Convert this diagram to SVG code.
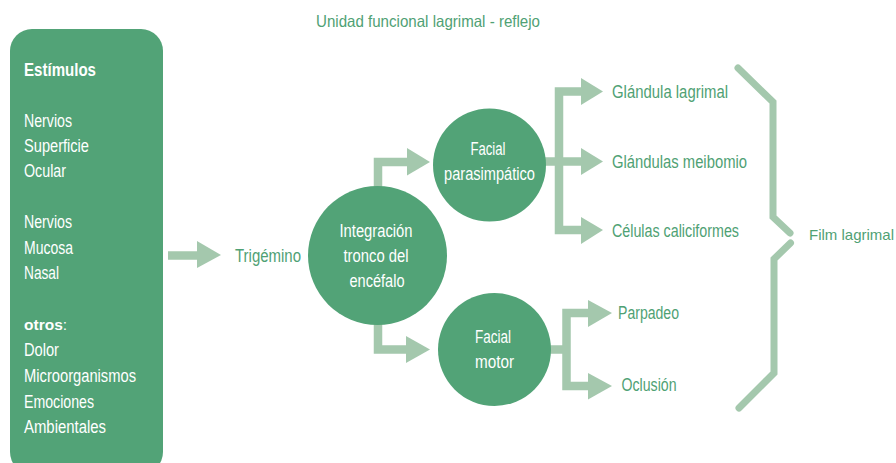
<svg xmlns="http://www.w3.org/2000/svg" width="896" height="463" viewBox="0 0 896 463">
<style>
text{font-family:"Liberation Sans",Arial,sans-serif;font-size:17.5px;}
.w{fill:#ffffff;}
.g{fill:#4fa174;}
.b{font-weight:bold;}
.node{fill:#52a377;}
.arr{fill:#a4c8ad;}
.bar{fill:none;stroke:#a4c8ad;stroke-width:8.5;}
.brace{fill:none;stroke:#a4c8ad;stroke-width:7;stroke-linecap:round;stroke-linejoin:miter;}
</style>
<text class="g" x="316" y="27" textLength="224" lengthAdjust="spacingAndGlyphs" style="font-size:16.5px">Unidad funcional lagrimal - reflejo</text>

<g id="estimulos">
<rect class="node" x="10" y="29" width="153" height="445" rx="22"/>
<text class="w b" x="24" y="76" textLength="72" lengthAdjust="spacingAndGlyphs">Estímulos</text>
<text class="w" x="24" y="127" textLength="48" lengthAdjust="spacingAndGlyphs">Nervios</text>
<text class="w" x="24" y="152" textLength="65" lengthAdjust="spacingAndGlyphs">Superficie</text>
<text class="w" x="24" y="177" textLength="42" lengthAdjust="spacingAndGlyphs">Ocular</text>
<text class="w" x="24" y="228" textLength="48" lengthAdjust="spacingAndGlyphs">Nervios</text>
<text class="w" x="24" y="254" textLength="49" lengthAdjust="spacingAndGlyphs">Mucosa</text>
<text class="w" x="24" y="279" textLength="35" lengthAdjust="spacingAndGlyphs">Nasal</text>
<text class="w" x="24" y="330" style="font-size:15.5px"><tspan class="b">otros</tspan>:</text>
<text class="w" x="24" y="356" textLength="35" lengthAdjust="spacingAndGlyphs">Dolor</text>
<text class="w" x="24" y="382" textLength="112" lengthAdjust="spacingAndGlyphs">Microorganismos</text>
<text class="w" x="24" y="408" textLength="70" lengthAdjust="spacingAndGlyphs">Emociones</text>
<text class="w" x="24" y="433" textLength="82" lengthAdjust="spacingAndGlyphs">Ambientales</text>
</g>

<g id="connectors">
<path class="bar" d="M168 255.5H198"/>
<polygon class="arr" points="197,241 221,255 197,268"/>
<path class="bar" d="M378 188V162H408"/>
<polygon class="arr" points="407,148 430,162 407,175.5"/>
<path class="bar" d="M378 323V349.5H407"/>
<polygon class="arr" points="406,336 430,349.5 406,363"/>
<path class="bar" d="M545 161.5H559M582 91.5H559V230H582"/>
<path class="bar" d="M559 161.5H582"/>
<polygon class="arr" points="581,78 603,91.5 581,105"/>
<polygon class="arr" points="581,148 603,161.5 581,175"/>
<polygon class="arr" points="581,217 603,230 581,244"/>
<path class="bar" d="M550 349.5H567M589 313H566.5V386H589"/>
<polygon class="arr" points="588,300 612,313 588,327"/>
<polygon class="arr" points="588,373 612,386 588,399.5"/>
<path class="brace" d="M738 68L773 102V217L790 233"/>
<path class="brace" d="M790.5 243L774 259V373L739 408"/>
</g>

<g id="trigemino">
<text class="g" x="235" y="262" textLength="66" lengthAdjust="spacingAndGlyphs">Trigémino</text>
</g>

<g id="integracion">
<circle class="node" cx="377.5" cy="255.5" r="69.5"/>
<text class="w" x="376" y="237" text-anchor="middle" textLength="73" lengthAdjust="spacingAndGlyphs">Integración</text>
<text class="w" x="376" y="262" text-anchor="middle" textLength="65" lengthAdjust="spacingAndGlyphs">tronco del</text>
<text class="w" x="377" y="287" text-anchor="middle" textLength="55" lengthAdjust="spacingAndGlyphs">encéfalo</text>
</g>

<g id="parasimpatico">
<circle class="node" cx="489.5" cy="165" r="56.5"/>
<text class="w" x="488" y="155" text-anchor="middle" textLength="35" lengthAdjust="spacingAndGlyphs">Facial</text>
<text class="w" x="489.5" y="180" text-anchor="middle" textLength="91" lengthAdjust="spacingAndGlyphs">parasimpático</text>
</g>

<g id="motor">
<circle class="node" cx="494.5" cy="349.5" r="56.5"/>
<text class="w" x="493" y="343" text-anchor="middle" textLength="36" lengthAdjust="spacingAndGlyphs">Facial</text>
<text class="w" x="494.5" y="368" text-anchor="middle" textLength="39" lengthAdjust="spacingAndGlyphs">motor</text>
</g>

<g id="glandula-lagrimal"><text class="g" x="612" y="98" textLength="116" lengthAdjust="spacingAndGlyphs">Glándula lagrimal</text></g>
<g id="glandulas-meibomio"><text class="g" x="612" y="168" textLength="135" lengthAdjust="spacingAndGlyphs">Glándulas meibomio</text></g>
<g id="celulas-caliciformes"><text class="g" x="612" y="237" textLength="127" lengthAdjust="spacingAndGlyphs">Células caliciformes</text></g>
<g id="parpadeo"><text class="g" x="618" y="319" textLength="61" lengthAdjust="spacingAndGlyphs">Parpadeo</text></g>
<g id="oclusion"><text class="g" x="621.5" y="391" textLength="55" lengthAdjust="spacingAndGlyphs">Oclusión</text></g>
<g id="film-lagrimal"><text class="g" x="809" y="240" style="font-size:15px">Film lagrimal</text></g>
</svg>
